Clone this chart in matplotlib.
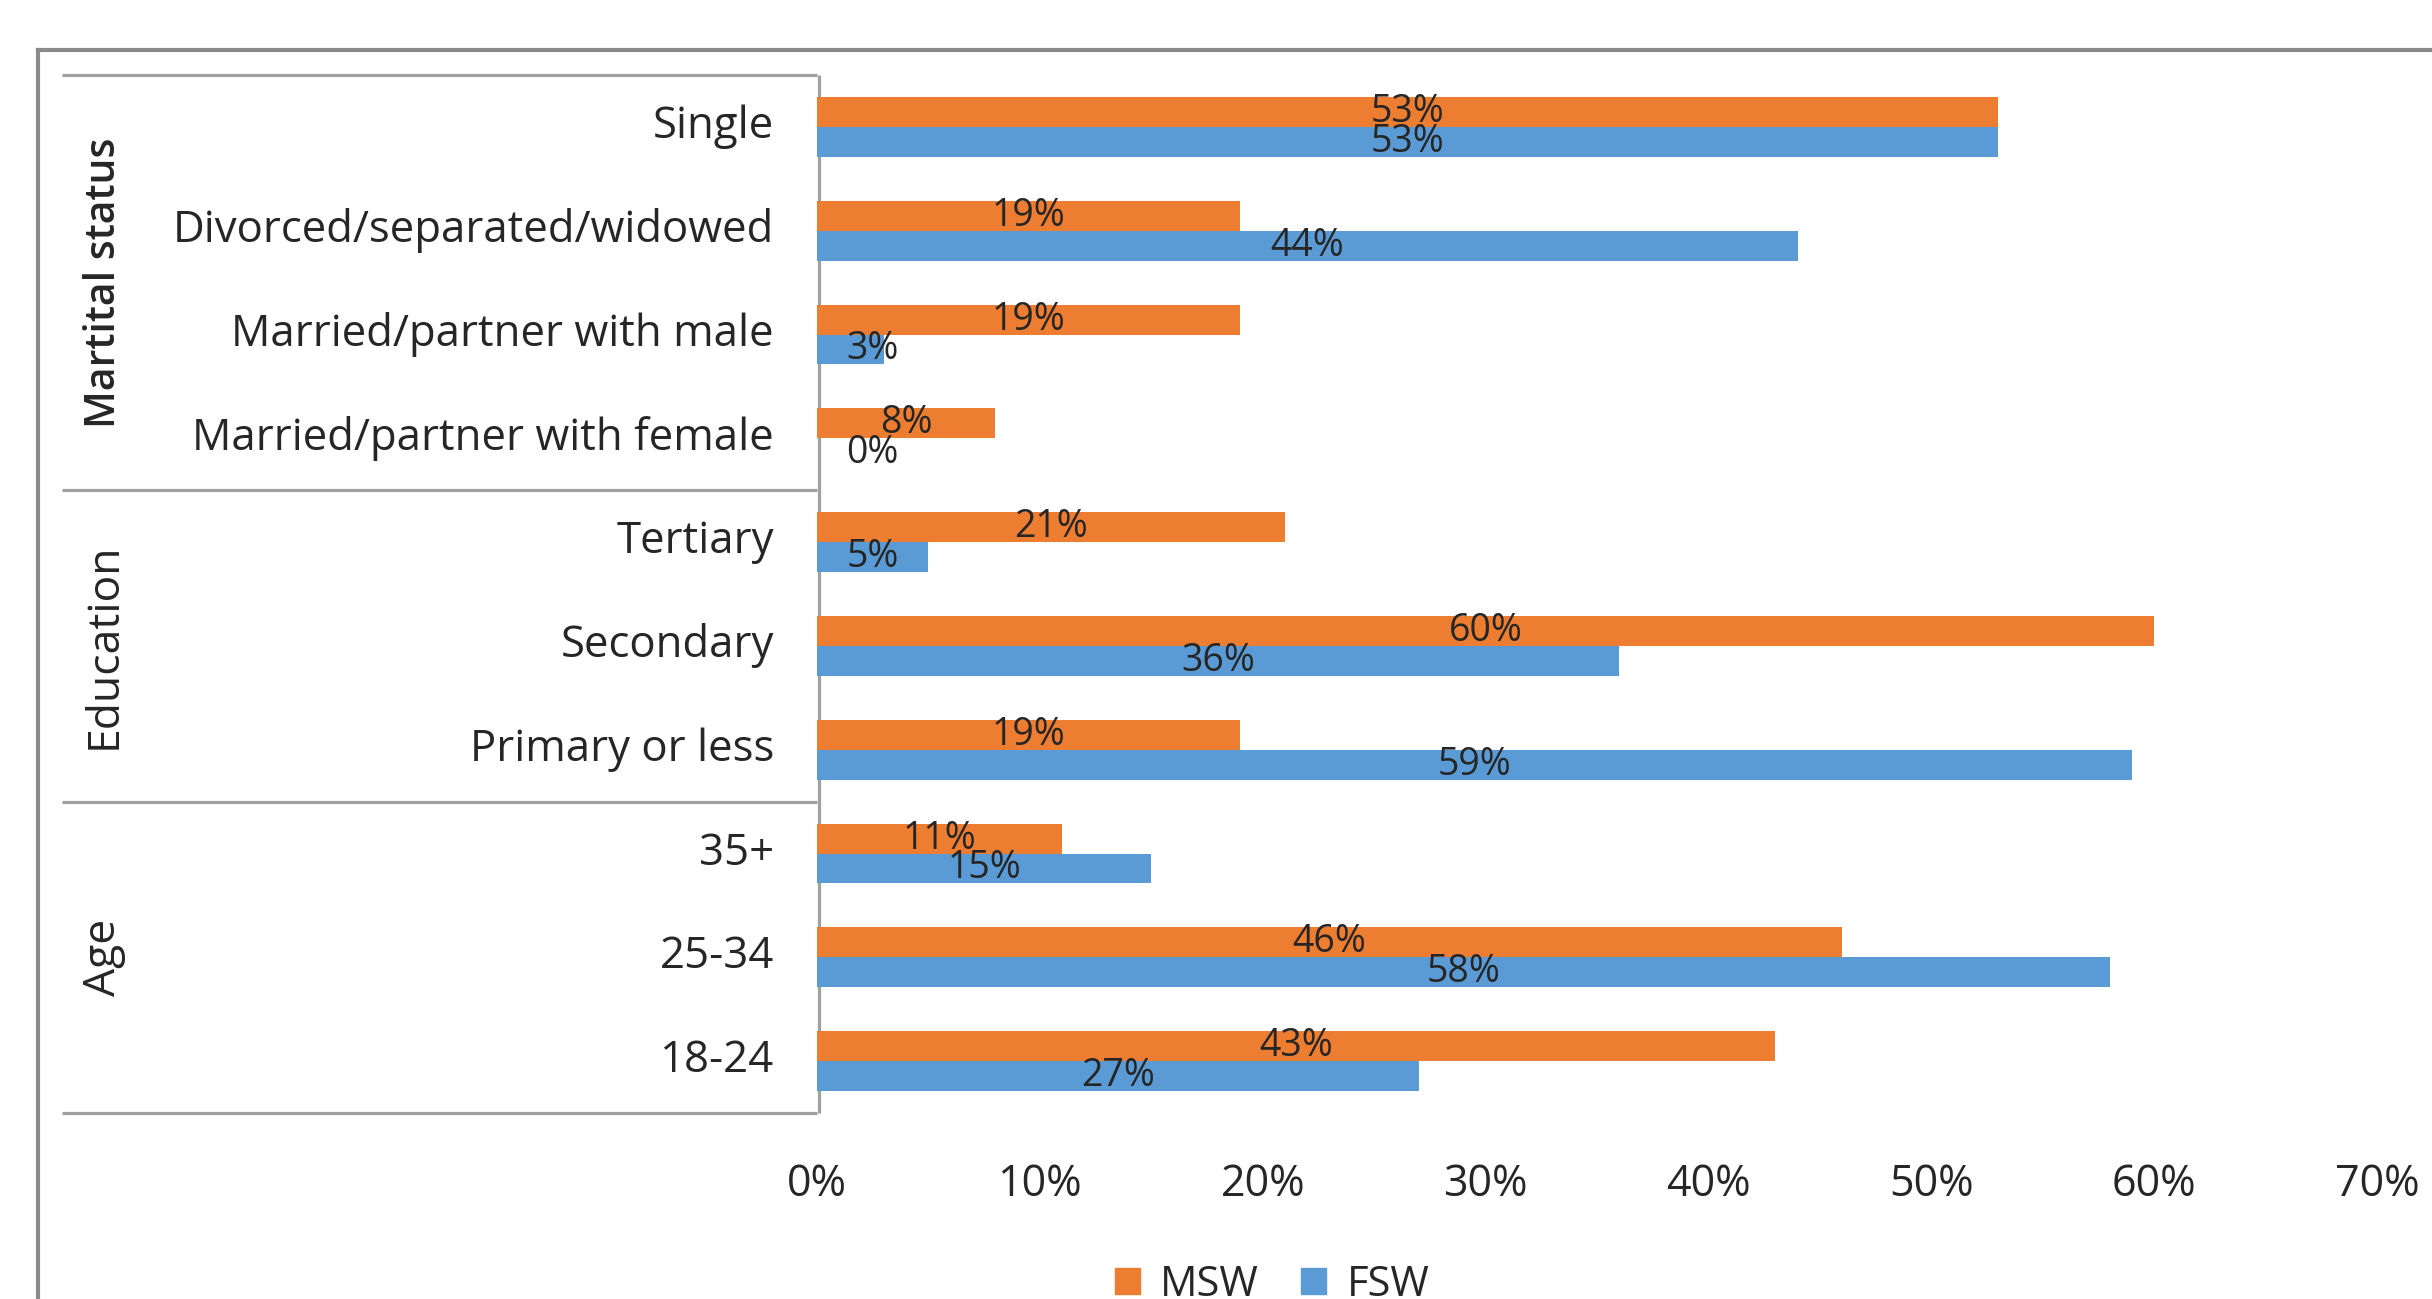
import matplotlib
matplotlib.use('Agg')
import matplotlib.pyplot as plt
import matplotlib.transforms as mtransforms
import numpy as np
from matplotlib.lines import Line2D
from matplotlib.patches import Patch

plt.rcParams['font.family'] = ['Open Sans', 'DejaVu Sans']

# Categories from top to bottom, grouped by characteristic
CATEGORIES = [
    'Single',
    'Divorced/separated/widowed',
    'Married/partner with male',
    'Married/partner with female',
    'Tertiary',
    'Secondary',
    'Primary or less',
    '35+',
    '25-34',
    '18-24',
]
GROUPS = ['Martital status', 'Education', 'Age']
GROUP_SIZES = [4, 3, 3]

# Percentages for male and female sex workers
MSW = [53, 19, 19, 8, 21, 60, 19, 11, 46, 43]
FSW = [53, 44, 3, 0, 5, 36, 59, 15, 58, 27]

XTICKS = [0, 10, 20, 30, 40, 50, 60, 70]

ORANGE = '#ED7D31'
BLUE = '#5B9BD5'
TEXT = '#262626'
LINE = '#A0A0A0'

W, H = 2432, 1299
fig = plt.figure(figsize=(W / 100, H / 100), dpi=100)
ax = fig.add_axes([817 / W, 1 - 1113 / H, 1560 / W, 1038 / H])

y = np.arange(len(CATEGORIES))
bh = 0.289
ax.barh(y - bh / 2, MSW, height=bh, color=ORANGE, zorder=2)
ax.barh(y + bh / 2, FSW, height=bh, color=BLUE, zorder=2)

ax.set_xlim(0, 70)
ax.set_ylim(len(CATEGORIES) - 0.5, -0.5)
ax.set_xticks(XTICKS, [f'{t}%' for t in XTICKS])
ax.set_yticks(y, CATEGORIES)
ax.tick_params(axis='x', length=0, pad=36, labelsize=31, labelcolor=TEXT)
ax.tick_params(axis='y', length=0, pad=31, labelsize=31.5, labelcolor=TEXT)
lift = mtransforms.ScaledTranslation(0, 4 / 72, fig.dpi_scale_trans)
for lbl in ax.get_yticklabels():
    lbl.set_transform(lbl.get_transform() + lift)
for s in ax.spines.values():
    s.set_visible(False)

# value labels, centred on each bar
for vals, off in ((MSW, -bh / 2), (FSW, bh / 2)):
    for yi, v in zip(y, vals):
        ax.text(max(v / 2, 2.5), yi + off, f'{v}%', ha='center', va='center',
                fontsize=27, color=TEXT, zorder=3)

# category group box and separators
trans = mtransforms.blended_transform_factory(ax.transAxes, ax.transData)
bounds = np.concatenate([[0], np.cumsum(GROUP_SIZES)]) - 0.5
for b in bounds:
    ax.plot([-0.484, 0], [b, b], transform=trans, clip_on=False,
            color=LINE, lw=2.3, solid_capstyle='butt', zorder=1)
ax.plot([0.0015, 0.0015], [bounds[0], bounds[-1]], transform=trans, clip_on=False,
        color=LINE, lw=2.3, solid_capstyle='butt', zorder=1)

for i, (name, size) in enumerate(zip(GROUPS, GROUP_SIZES)):
    mid = (bounds[i] + bounds[i + 1]) / 2
    ax.text(-0.457, mid, name, transform=trans, rotation=90, ha='center', va='center',
            fontsize=29.5 if i == 0 else 32, color=TEXT,
            fontweight='semibold' if i == 0 else 'normal')

# outer chart frame
fx, fy = 38 / W, 1 - 50 / H
fig.add_artist(Line2D([fx, 1], [fy, fy], transform=fig.transFigure, color='#8A8A8A', lw=3))
fig.add_artist(Line2D([fx, fx], [fy, 0], transform=fig.transFigure, color='#8A8A8A', lw=3))

handles = [Patch(color=ORANGE, label='MSW'), Patch(color=BLUE, label='FSW')]
fig.legend(handles=handles, loc='center', bbox_to_anchor=(0.523, 0.011), ncol=2,
           frameon=False, fontsize=30, handlelength=0.6, handleheight=0.6,
           handletextpad=0.5, columnspacing=1.0, labelcolor=TEXT)

fig.savefig('out.png', dpi=100)
